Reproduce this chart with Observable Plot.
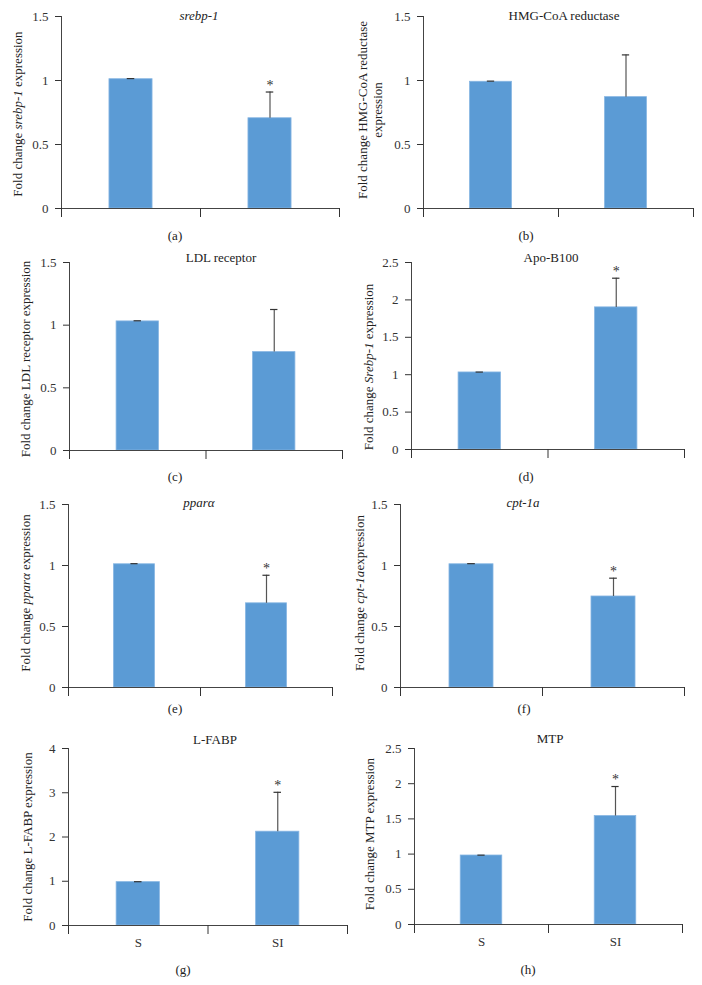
<!DOCTYPE html>
<html>
<head>
<meta charset="utf-8">
<script src="https://cdn.jsdelivr.net/npm/d3@7"></script>
<script src="https://cdn.jsdelivr.net/npm/@observablehq/plot@0.6"></script>
<style>
  body { margin: 0; background: #fff; }
  #root { position: relative; width: 702px; height: 985px; font-family: "Liberation Serif", "DejaVu Serif", serif; color: #222; }
  .abs { position: absolute; white-space: nowrap; }
  .title, .cap { font-size: 13px; transform: translate(-50%, -50%); }
  .ylab { font-size: 13px; text-align: center; line-height: 15px; transform: translate(-50%, -50%) rotate(-90deg); }
</style>
</head>
<body>
<div id="root"></div>
<script>
// ---- data ----
const categories = ["S", "SI"];
const panelLetters = ["(a)", "(b)", "(c)", "(d)", "(e)", "(f)", "(g)", "(h)"];
const titles = ["<i>srebp-1</i>", "HMG-CoA reductase", "LDL receptor", "Apo-B100", "<i>ppar\u03b1</i>", "<i>cpt-1a</i>", "L-FABP", "MTP"];
const yLabels = [
  "Fold change <i>srebp-1</i> expression",
  "Fold change HMG-CoA reductase<br>expression",
  "Fold change LDL receptor expression",
  "Fold change <i>Srebp-1</i> expression",
  "Fold change <i>ppar\u03b1</i> expression",
  "Fold change <i>cpt-1a</i>expression",
  "Fold change L-FABP expression",
  "Fold change MTP expression"
];
const sValues  = [1.01, 0.99, 1.03, 1.03, 1.01, 1.01, 0.98, 0.98];
const sErrors  = [0.005, 0.005, 0.005, 0.005, 0.005, 0.005, 0.01, 0.005];
const siValues = [0.705, 0.87, 0.785, 1.90, 0.69, 0.746, 2.12, 1.54];
const siErrorTops = [0.91, 1.20, 1.125, 2.29, 0.92, 0.896, 3.01, 1.96];
const siStars  = [true, false, false, true, true, true, true, true];
const yMax     = [1.5, 1.5, 1.5, 2.5, 1.5, 1.5, 4, 2.5];
const yStep    = [0.5, 0.5, 0.5, 0.5, 0.5, 0.5, 1, 0.5];
const showXLabels = [false, false, false, false, false, false, true, true];

// ---- layout (pixel geometry of each panel) ----
const layout = [
  {col: 0,   axisX: 61,  xEnd: 339, top: 16,  zero: 208, title: [199, 16],  ylab: [17, 114],  cap: [175, 236]},
  {col: 351, axisX: 423, xEnd: 693, top: 16,  zero: 208, title: [564, 16],  ylab: [370, 110], cap: [526, 236]},
  {col: 0,   axisX: 69,  xEnd: 342, top: 262, zero: 450, title: [221, 258], ylab: [25, 359],  cap: [175, 477]},
  {col: 351, axisX: 411, xEnd: 684, top: 262, zero: 449, title: [551, 258], ylab: [368, 367], cap: [526, 477]},
  {col: 0,   axisX: 68,  xEnd: 332, top: 504, zero: 687, title: [199, 503], ylab: [25, 593],  cap: [175, 709]},
  {col: 351, axisX: 400, xEnd: 684, top: 504, zero: 687, title: [523, 503], ylab: [359, 593], cap: [524, 709]},
  {col: 0,   axisX: 68,  xEnd: 347, top: 748, zero: 925, title: [215, 740], ylab: [27, 837],  cap: [183, 970]},
  {col: 351, axisX: 414, xEnd: 682, top: 748, zero: 924, title: [550, 739], ylab: [369, 834], cap: [528, 970]}
];

const root = document.getElementById("root");
const MT = 14, MB = 34;
const barHalf = 0.155, capHalf = 0.027;
const fmt = d3.format("~g");

function addText(cls, html, xy) {
  const d = document.createElement("div");
  d.className = "abs " + cls;
  d.style.left = xy[0] + "px";
  d.style.top = xy[1] + "px";
  d.innerHTML = html;
  root.appendChild(d);
}

layout.forEach((L, k) => {
  const rows = categories.map((c, i) => ({
    cat: c, i,
    v: i ? siValues[k] : sValues[k],
    hi: i ? siErrorTops[k] : sValues[k] + sErrors[k],
    star: i ? siStars[k] : false
  }));
  const ticks = d3.range(0, yMax[k] + 1e-9, yStep[k]);
  const marks = [
    Plot.rectY(rows, {x1: d => d.i + 0.5 - barHalf, x2: d => d.i + 0.5 + barHalf, y: "v", fill: "#5b9bd5", stroke: "#86b5e2", strokeWidth: 0.8}),
    Plot.ruleX(rows.filter(d => d.i > 0), {x: d => d.i + 0.5, y1: "v", y2: "hi", stroke: "#555", strokeWidth: 1.2}),
    Plot.ruleY(rows, {y: "hi", x1: d => d.i + 0.5 - capHalf, x2: d => d.i + 0.5 + capHalf, stroke: "#333", strokeWidth: 1.2}),
    Plot.text(rows.filter(d => d.star), {x: d => d.i + 0.5, y: "hi", text: () => "*", dy: -7, fontSize: 14, fill: "#333"}),
    Plot.ruleY([0], {stroke: "#444"}),
    Plot.ruleX([0], {stroke: "#444"}),
    Plot.axisY({ticks, tickSize: 6, tickPadding: 7, tickFormat: fmt, label: null, fontSize: 13}),
    Plot.axisX({ticks: [0, 1, 2], tickSize: 9, tickFormat: () => "", label: null})
  ];
  if (showXLabels[k]) {
    marks.push(Plot.axisX({ticks: [0.5, 1.5], tickSize: 0, tickPadding: 12, tickFormat: d => categories[Math.floor(d)], label: null, fontSize: 13}));
  }
  const chart = Plot.plot({
    width: 351,
    height: (L.zero - L.top) + MT + MB,
    marginLeft: L.axisX - L.col,
    marginRight: L.col + 351 - L.xEnd,
    marginTop: MT,
    marginBottom: MB,
    x: {domain: [0, 2]},
    y: {domain: [0, yMax[k]]},
    style: {fontFamily: "Liberation Serif, DejaVu Serif, serif", fontSize: "13px", color: "#333", background: "transparent", overflow: "visible"},
    marks
  });
  const wrap = document.createElement("div");
  wrap.className = "abs";
  wrap.style.left = L.col + "px";
  wrap.style.top = (L.top - MT) + "px";
  wrap.appendChild(chart);
  root.appendChild(wrap);

  addText("title", titles[k], L.title);
  addText("ylab", yLabels[k], L.ylab);
  addText("cap", panelLetters[k], L.cap);
});
</script>
</body>
</html>
